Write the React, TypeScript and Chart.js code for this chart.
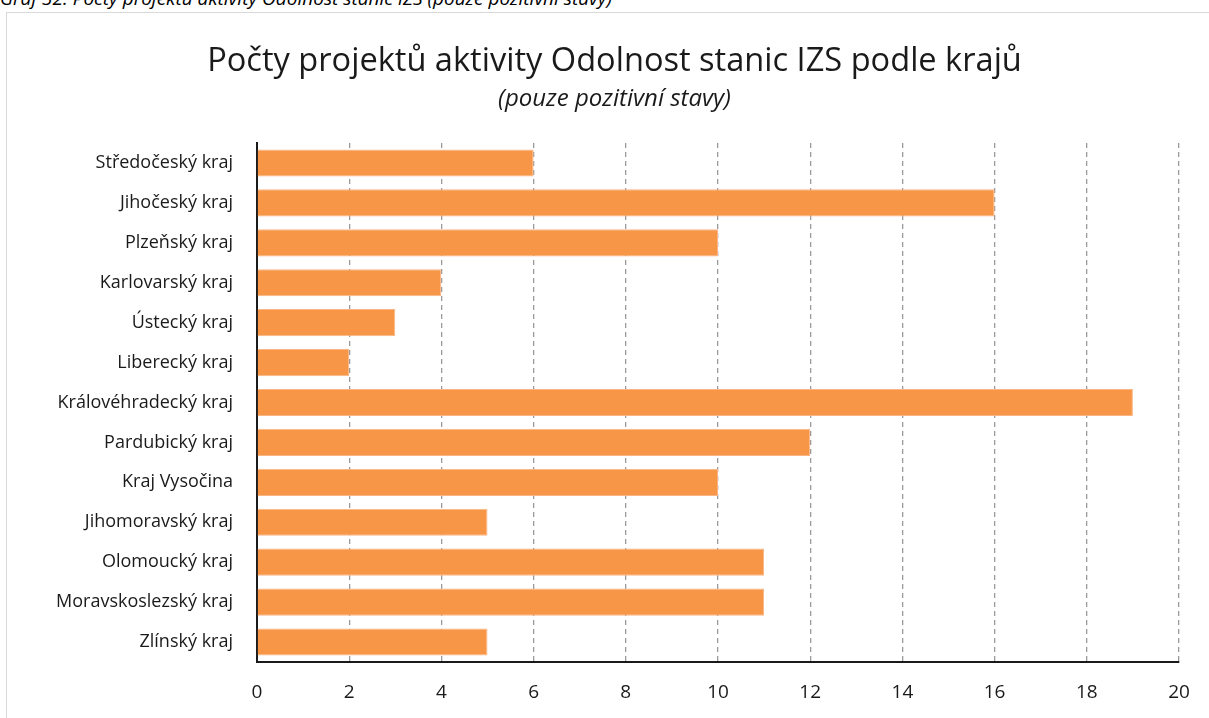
import React, { useEffect, useRef } from "react";
import { Chart, registerables } from "chart.js";

Chart.register(...registerables);

const categories = [
  "Středočeský kraj",
  "Jihočeský kraj",
  "Plzeňský kraj",
  "Karlovarský kraj",
  "Ústecký kraj",
  "Liberecký kraj",
  "Královéhradecký kraj",
  "Pardubický kraj",
  "Kraj Vysočina",
  "Jihomoravský kraj",
  "Olomoucký kraj",
  "Moravskoslezský kraj",
  "Zlínský kraj",
];
const projectCounts = [6, 16, 10, 4, 3, 2, 19, 12, 10, 5, 11, 11, 5];
const xMin = 0;
const xMax = 20;
const xStep = 2;

const titleText = "Počty projektů aktivity Odolnost stanic IZS podle krajů";
const subtitleText = "(pouze pozitivní stavy)";
const captionText = "Graf 32: Počty projektů aktivity Odolnost stanic IZS (pouze pozitivní stavy)";

const FONT = "'Open Sans', Lato, 'DejaVu Sans', sans-serif";

export default function App() {
  const ref = useRef<HTMLCanvasElement | null>(null);

  useEffect(() => {
    if (!ref.current) return;
    const chart = new Chart(ref.current, {
      type: "bar",
      data: {
        labels: categories,
        datasets: [
          {
            data: projectCounts,
            backgroundColor: "#F79646",
            borderColor: "#FBB585",
            borderWidth: 1,
            barPercentage: 0.68,
            categoryPercentage: 1,
          },
        ],
      },
      options: {
        indexAxis: "y",
        animation: false,
        responsive: false,
        maintainAspectRatio: false,
        layout: { padding: { left: 50, right: 30, top: 0, bottom: 0 } },
        plugins: {
          legend: { display: false },
          tooltip: { enabled: false },
          title: {
            display: true,
            text: titleText,
            color: "#1a1a1a",
            font: { family: FONT, size: 32.6, weight: "normal", lineHeight: 1.2 },
            padding: { top: 42, bottom: 2 },
          },
          subtitle: {
            display: true,
            text: subtitleText,
            color: "#1a1a1a",
            font: { family: FONT, size: 24, style: "italic", weight: "normal", lineHeight: 1.2 },
            padding: { top: 1.5, bottom: 29.6 },
          },
        },
        scales: {
          x: {
            min: xMin,
            max: xMax,
            ticks: {
              stepSize: xStep,
              color: "#1a1a1a",
              font: { family: FONT, size: 19 },
              padding: 19,
            },
            grid: {
              display: true,
              drawTicks: false,
              color: "#9a9a9a",
              lineWidth: 1.3,
            },
            border: { display: true, color: "#1a1a1a", width: 2, dash: [5, 4] },
            afterFit: (s: any) => {
              s.height = 56;
            },
          },
          y: {
            ticks: {
              color: "#1a1a1a",
              font: { family: FONT, size: 18 },
              padding: 24,
            },
            grid: { display: false, drawTicks: false },
            border: { display: true, color: "#1a1a1a", width: 2 },
            afterFit: (s: any) => {
              s.width = 207;
            },
          },
        },
      },
    });
    return () => chart.destroy();
  }, []);

  return (
    <div
      style={{
        position: "fixed",
        left: 0,
        top: 0,
        width: 1209,
        height: 718,
        overflow: "hidden",
        background: "#fff",
      }}
    >
      <div
        style={{
          position: "absolute",
          left: 0,
          top: -15,
          fontFamily: FONT,
          fontStyle: "italic",
          fontSize: 19,
          whiteSpace: "nowrap",
          color: "#000",
        }}
      >
        {captionText}
      </div>
      <div
        style={{
          position: "absolute",
          left: 6,
          top: 12,
          width: 1300,
          height: 800,
          border: "1px solid #d9d9d9",
          boxSizing: "border-box",
        }}
      />
      <canvas
        ref={ref}
        width={1209}
        height={718}
        style={{ position: "absolute", left: 0, top: 0, width: 1209, height: 718 }}
      />
    </div>
  );
}
